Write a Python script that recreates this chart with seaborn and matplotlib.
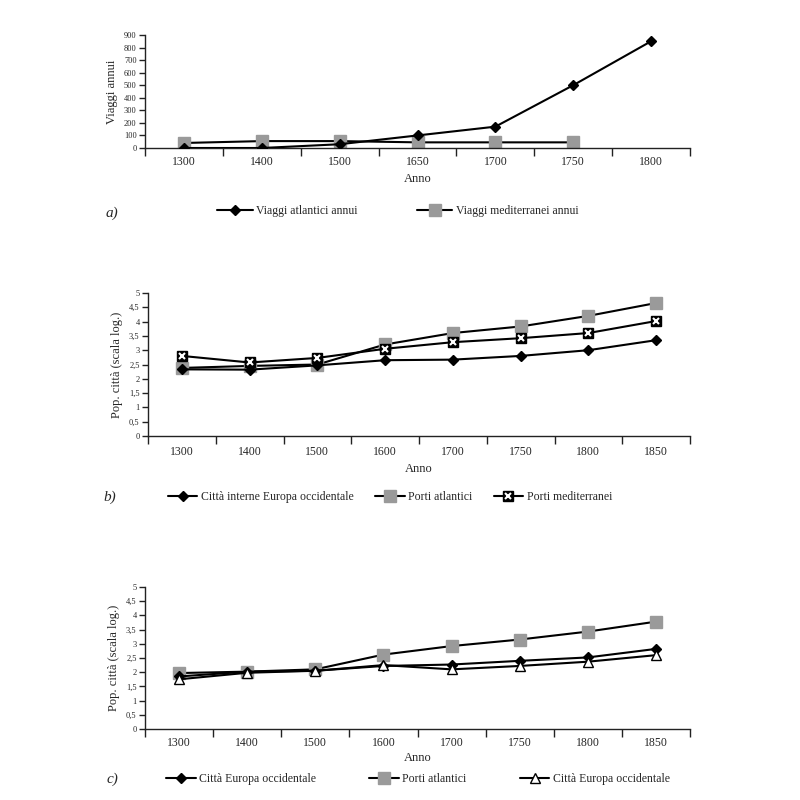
import matplotlib
matplotlib.use("Agg")
import matplotlib.pyplot as plt
import seaborn as sns
import pandas as pd
import numpy as np
from matplotlib.ticker import FixedLocator, FixedFormatter, NullFormatter
from matplotlib.legend_handler import HandlerTuple

# ---------------- data ----------------
years_a = ["1300", "1400", "1500", "1650", "1700", "1750", "1800"]
atlantic_trips = [0, 0, 30, 100, 170, 500, 850]
med_years_a = ["1300", "1400", "1500", "1650", "1700", "1750"]
med_trips = [40, 55, 55, 45, 45, 45]

years_bc = ["1300", "1400", "1500", "1600", "1700", "1750", "1800", "1850"]
b_inland = [2.33, 2.32, 2.47, 2.65, 2.67, 2.80, 3.00, 3.35]
b_atlantic = [2.38, 2.45, 2.50, 3.20, 3.60, 3.83, 4.20, 4.65]
b_med = [2.80, 2.57, 2.73, 3.05, 3.28, 3.42, 3.60, 4.02]

c_west = [1.85, 2.02, 2.05, 2.22, 2.27, 2.40, 2.52, 2.82]
c_atlantic = [1.97, 2.02, 2.10, 2.62, 2.92, 3.15, 3.43, 3.78]
c_west2 = [1.75, 1.98, 2.05, 2.25, 2.10, 2.22, 2.37, 2.60]

a_yticks = [0, 100, 200, 300, 400, 500, 600, 700, 800, 900]
a_yticklabels = ["0", "100", "200", "300", "400", "500", "600", "700", "800", "900"]
bc_yticks = [0, 0.5, 1, 1.5, 2, 2.5, 3, 3.5, 4, 4.5, 5]
bc_yticklabels = ["0", "0,5", "1", "1,5", "2", "2,5", "3", "3,5", "4", "4,5", "5"]

# ---------------- style ----------------
sns.set_style("white")
plt.rcParams["font.family"] = ["Liberation Serif", "DejaVu Serif"]
GRAY = "#9a9a9a"
W, H = 800, 800

fig = plt.figure(figsize=(8, 8), dpi=100)

def box(left, top, right, bottom):
    return [left / W, 1 - bottom / H, (right - left) / W, (bottom - top) / H]

def style_axes(ax, cats, yticks, ylabels, ymax, ylabel, xpad=7, xlabelpad=4):
    n = len(cats)
    ax.set_xticks(range(n))
    ax.set_xticklabels(cats)
    ax.set_xlim(-0.5, n - 0.5)
    ax.set_ylim(0, ymax)
    for s in ["top", "right"]:
        ax.spines[s].set_visible(False)
    for s in ["left", "bottom"]:
        ax.spines[s].set_color("#222222")
        ax.spines[s].set_linewidth(1.0)
    ax.yaxis.set_major_locator(FixedLocator(yticks))
    ax.yaxis.set_major_formatter(FixedFormatter(ylabels))
    ax.tick_params(axis="y", which="major", direction="out", length=4, width=1,
                   labelsize=6, pad=2, left=True, color="#222222")
    ax.tick_params(axis="x", which="major", length=0, labelsize=8.5, pad=xpad, bottom=True)
    ax.xaxis.set_minor_locator(FixedLocator(np.arange(n + 1) - 0.5))
    ax.xaxis.set_minor_formatter(NullFormatter())
    ax.tick_params(axis="x", which="minor", direction="out", length=6, width=1,
                   bottom=True, color="#222222")
    ax.set_xlabel("Anno", fontsize=9, labelpad=xlabelpad)
    ax.set_ylabel(ylabel, fontsize=9, labelpad=4)
    ax.grid(False)

def draw(ax, cats, vals, marker, mfc, mec, ms, lw=1.5, zorder=2):
    df = pd.DataFrame({"x": cats, "y": vals})
    sns.lineplot(data=df, x="x", y="y", ax=ax, sort=False, color="black",
                 linewidth=lw, marker=marker, markersize=ms,
                 markerfacecolor=mfc, markeredgecolor=mec, markeredgewidth=1.0,
                 zorder=zorder)
    return ax.lines[-1]

def draw_xbox(ax, cats, vals):
    ln = draw(ax, cats, vals, "s", "black", "black", 7.5, zorder=4)
    df = pd.DataFrame({"x": cats, "y": vals})
    sns.lineplot(data=df, x="x", y="y", ax=ax, sort=False, linewidth=0,
                 marker="x", markersize=4.5, markeredgecolor="white",
                 markeredgewidth=1.5, color="white", zorder=5)
    xl = ax.lines[-1]
    return (ln, xl)

# ---------------- panel a ----------------
ax1 = fig.add_axes(box(145, 35, 690, 148))
h_med = draw(ax1, med_years_a, med_trips, "s", GRAY, GRAY, 8, zorder=2)
h_atl = draw(ax1, years_a, atlantic_trips, "D", "black", "black", 5.5, zorder=3)
style_axes(ax1, years_a, a_yticks, a_yticklabels, 900, "Viaggi annui", xpad=6, xlabelpad=3)
fig.legend([h_atl, h_med], ["Viaggi atlantici annui", "Viaggi mediterranei annui"],
           loc="center", bbox_to_anchor=(398 / W, 1 - 211 / H), ncol=2, frameon=False,
           fontsize=8.5, handlelength=3, handletextpad=0.3, columnspacing=5)
fig.text(112 / W, 1 - 213 / H, "a)", fontsize=11, style="italic", ha="center", va="center")

# ---------------- panel b ----------------
ax2 = fig.add_axes(box(148, 293, 690, 436))
h_b_atl = draw(ax2, years_bc, b_atlantic, "s", GRAY, GRAY, 8, zorder=2)
h_b_med = draw_xbox(ax2, years_bc, b_med)
h_b_in = draw(ax2, years_bc, b_inland, "D", "black", "black", 5.5, zorder=3)
style_axes(ax2, years_bc, bc_yticks, bc_yticklabels, 5, "Pop. città (scala log.)",
           xpad=7, xlabelpad=4)
fig.legend([h_b_in, h_b_atl, h_b_med],
           ["Città interne Europa occidentale", "Porti atlantici", "Porti mediterranei"],
           handler_map={tuple: HandlerTuple(ndivide=1, pad=0)},
           loc="center", bbox_to_anchor=(390 / W, 1 - 497 / H), ncol=3, frameon=False,
           fontsize=8.5, handlelength=2.5, handletextpad=0.3, columnspacing=1.8)
fig.text(110 / W, 1 - 497 / H, "b)", fontsize=11, style="italic", ha="center", va="center")

# ---------------- panel c ----------------
ax3 = fig.add_axes(box(145, 587, 690, 729))
h_c_atl = draw(ax3, years_bc, c_atlantic, "s", GRAY, GRAY, 8, zorder=2)
h_c_w = draw(ax3, years_bc, c_west, "D", "black", "black", 5.5, zorder=3)
h_c_w2 = draw(ax3, years_bc, c_west2, "^", "white", "black", 6.5, zorder=4)
style_axes(ax3, years_bc, bc_yticks, bc_yticklabels, 5, "Pop. città (scala log.)",
           xpad=6, xlabelpad=2)
fig.legend([h_c_w, h_c_atl, h_c_w2],
           ["Città Europa occidentale", "Porti atlantici", "Città Europa occidentale"],
           loc="center", bbox_to_anchor=(418 / W, 1 - 779 / H), ncol=3, frameon=False,
           fontsize=8.5, handlelength=2.5, handletextpad=0.3, columnspacing=4.5)
fig.text(112 / W, 1 - 779 / H, "c)", fontsize=11, style="italic", ha="center", va="center")

fig.savefig("out.png", dpi=100, facecolor="white")
